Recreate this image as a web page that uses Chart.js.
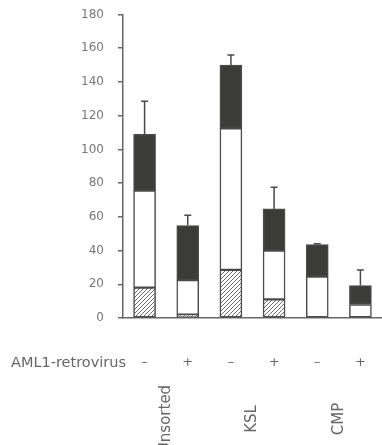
<!DOCTYPE html>
<html>
<head>
<meta charset="utf-8">
<script src="https://cdn.jsdelivr.net/npm/chart.js@4"></script>
<style>
html,body{margin:0;padding:0;background:#fff;}
#wrap{width:382px;height:445px;position:relative;}
</style>
</head>
<body>
<div id="wrap"><canvas id="c" width="382" height="445"></canvas></div>
<script>
// ---- data ----
const signs = ['\u2013', '+', '\u2013', '+', '\u2013', '+'];
const groups = ['Unsorted', 'KSL', 'CMP'];
const rowLabel = 'AML1-retrovirus';
const hatchedVals = [18, 2, 28.5, 11, 0, 0];
const whiteVals = [57.5, 20.5, 84, 29, 24.5, 8];
const darkVals = [33.5, 32.3, 37.5, 24.7, 19, 11.3];
const errorTops = [128.5, 61, 156, 77.5, 44, 28.5];
const yTicks = [0, 20, 40, 60, 80, 100, 120, 140, 160, 180];

function hatchPattern() {
  const p = document.createElement('canvas');
  p.width = 4; p.height = 4;
  const g = p.getContext('2d');
  g.fillStyle = '#fff'; g.fillRect(0, 0, 4, 4);
  g.strokeStyle = '#6a6a6a'; g.lineWidth = 1;
  g.beginPath();
  g.moveTo(-1, 5); g.lineTo(5, -1);
  g.moveTo(-1, 1); g.lineTo(1, -1);
  g.moveTo(3, 5); g.lineTo(5, 3);
  g.stroke();
  return document.getElementById('c').getContext('2d').createPattern(p, 'repeat');
}

const border = '#4a4a4a';
const common = { borderColor: border, borderWidth: 1.5, borderSkipped: false, barThickness: 22 };

const extras = {
  id: 'extras',
  afterDatasetsDraw(chart) {
    const ctx = chart.ctx, x = chart.scales.x, y = chart.scales.y;
    ctx.save();
    ctx.strokeStyle = border; ctx.lineWidth = 1.5;
    errorTops.forEach((e, i) => {
      const top = hatchedVals[i] + whiteVals[i] + darkVals[i];
      const px = x.getPixelForValue(i);
      const y0 = y.getPixelForValue(top), y1 = y.getPixelForValue(e);
      ctx.beginPath();
      ctx.moveTo(px, y0); ctx.lineTo(px, y1);
      ctx.moveTo(px - 3.5, y1); ctx.lineTo(px + 3.5, y1);
      ctx.stroke();
    });
    ctx.restore();
  },
  afterDraw(chart) {
    const ctx = chart.ctx, x = chart.scales.x;
    ctx.save();
    ctx.fillStyle = '#666';
    ctx.font = '14.5px "DejaVu Sans"';
    ctx.textAlign = 'left'; ctx.textBaseline = 'middle';
    ctx.fillText(rowLabel, 11, 363);
    ctx.font = '15px "DejaVu Sans"';
    ctx.textAlign = 'center';
    groups.forEach((g, k) => {
      const cx = (x.getPixelForValue(2 * k) + x.getPixelForValue(2 * k + 1)) / 2;
      ctx.save();
      ctx.translate(cx, 419);
      ctx.rotate(-Math.PI / 2);
      ctx.fillText(g, 0, 0);
      ctx.restore();
    });
    ctx.restore();
  }
};

new Chart(document.getElementById('c'), {
  type: 'bar',
  data: {
    labels: signs,
    datasets: [
      Object.assign({ label: 'hatched', data: hatchedVals, backgroundColor: hatchPattern() }, common),
      Object.assign({ label: 'white', data: whiteVals, backgroundColor: '#ffffff' }, common),
      Object.assign({ label: 'dark', data: darkVals, backgroundColor: '#3b3b38' }, common)
    ]
  },
  options: {
    responsive: false,
    animation: false,
    layout: { padding: { top: 14.5, right: 0, left: 0, bottom: 0 } },
    plugins: { legend: { display: false }, tooltip: { enabled: false } },
    scales: {
      x: {
        stacked: true,
        grid: { display: false, drawTicks: false },
        border: { display: true, color: '#666', width: 1.5 },
        ticks: { color: '#666', font: { family: 'DejaVu Sans', size: 13 }, padding: 37, maxRotation: 0 },
        afterFit(s) { s.height = 127; s.paddingLeft = 0; s.paddingRight = 0; }
      },
      y: {
        stacked: true,
        min: 0, max: 180,
        afterBuildTicks(s) { s.ticks = yTicks.map(v => ({ value: v })); },
        grid: { drawOnChartArea: false, drawTicks: true, tickLength: 5, color: '#666', lineWidth: 1.5 },
        border: { display: true, color: '#666', width: 1.5 },
        ticks: { color: '#777', font: { family: 'DejaVu Sans', size: 12 }, padding: 14 },
        afterFit(s) { s.width = 123; s.paddingTop = 0; s.paddingBottom = 0; }
      }
    }
  },
  plugins: [extras]
});
</script>
</body>
</html>
